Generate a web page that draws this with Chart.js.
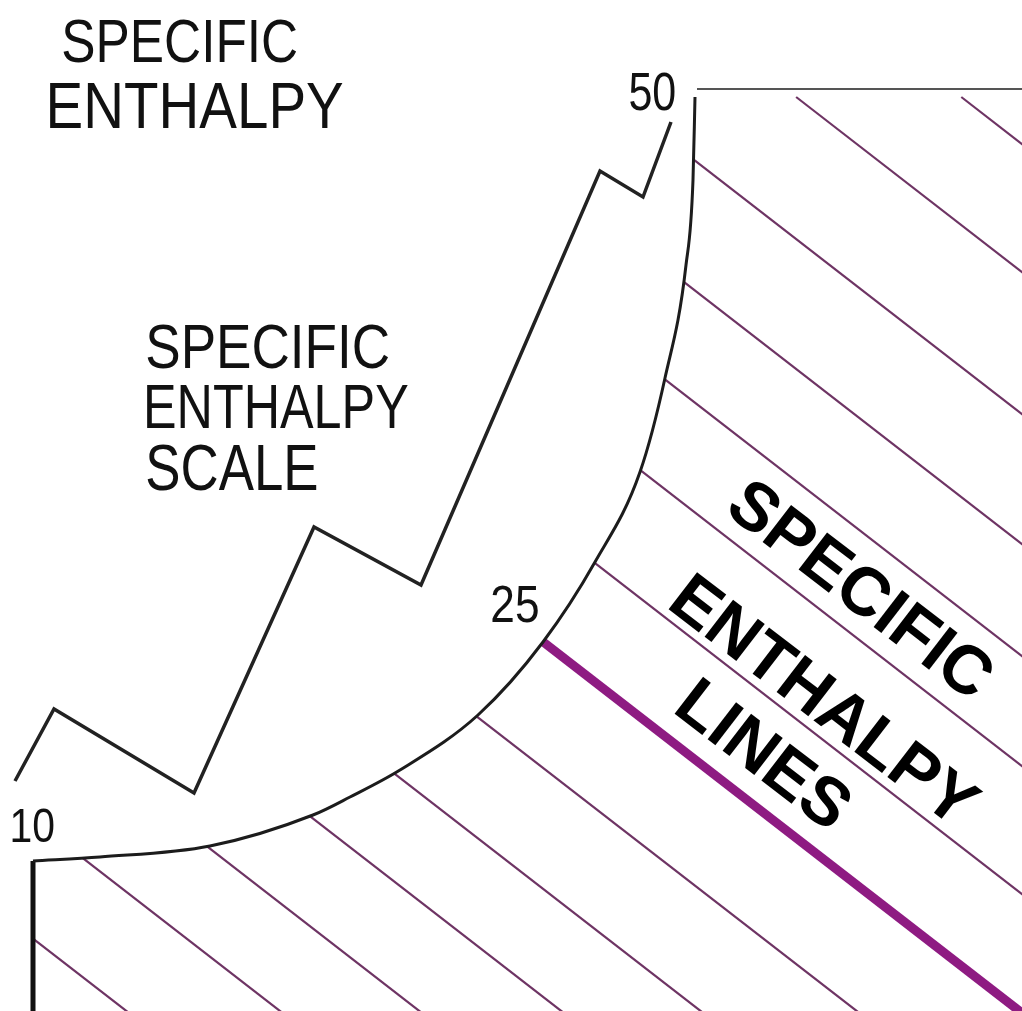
<!DOCTYPE html>
<html>
<head>
<meta charset="utf-8">
<title>Specific enthalpy</title>
<script src="https://cdn.jsdelivr.net/npm/chart.js@4.4.1/dist/chart.umd.min.js"></script>
<style>
  html, body { margin: 0; padding: 0; background: #fff; overflow: hidden; }
  #wrap { width: 1022px; height: 1011px; position: relative; }
</style>
</head>
<body>
<div id="wrap"><canvas id="enthalpyChart"></canvas></div>
<script>
// values (chart units follow the picture, y runs downwards)
const satX = [33, 100, 210, 313, 350, 400, 478, 543, 595, 640, 665, 686, 693, 695];
const satY = [861, 857, 846, 815, 797, 770, 715, 642, 562, 472, 378, 265, 180, 97];

const zigX = [15, 54, 194, 314, 421, 600, 643, 671];
const zigY = [781, 709, 793, 527, 585, 171, 197, 122];

// enthalpy lines, given by where each one would cross x = 0
const hatchC = [-648, -520, -378, -248, -136, -26, 102, 347, 468, 576, 686, 794, 913];
const boldC = 221;
const hatchSlope = 0.775;

const frameLeftX = [33, 33];
const frameLeftY = [861, 1011];
const frameTopX = [697, 1022];
const frameTopY = [89, 89];
const topY = 97;

const scaleTicks = ["10", "25", "50"];
const titleLines = ["SPECIFIC", "ENTHALPY"];
const scaleLines = ["SPECIFIC", "ENTHALPY", "SCALE"];
const linesLabel = ["SPECIFIC", "ENTHALPY", "LINES"];

function pts(xs, ys) {
  return xs.map((x, i) => ({ x: x, y: ys[i] }));
}

// where an enthalpy line leaves the saturation curve (or the frame)
function hatchStart(c) {
  for (let i = 0; i < satX.length - 1; i++) {
    const f0 = satY[i] - (c + hatchSlope * satX[i]);
    const f1 = satY[i + 1] - (c + hatchSlope * satX[i + 1]);
    if ((f0 >= 0 && f1 <= 0) || (f0 <= 0 && f1 >= 0)) {
      const t = f0 / (f0 - f1);
      const x = satX[i] + t * (satX[i + 1] - satX[i]) - 4; // tucked under the white fill
      return { x: x, y: c + hatchSlope * x };
    }
  }
  if (c + hatchSlope * frameLeftX[0] > satY[0]) {
    return { x: frameLeftX[0], y: c + hatchSlope * frameLeftX[0] };
  }
  const x = (topY - c) / hatchSlope;
  return { x: x, y: topY };
}

function hatchLine(c) {
  const s = hatchStart(c);
  return [s, { x: 1100, y: c + hatchSlope * 1100 }];
}

const plainLine = {
  showLine: true,
  pointRadius: 0,
  fill: false,
  tension: 0
};

const datasets = [
  Object.assign({}, plainLine, {
    label: "scale",
    data: pts(zigX, zigY),
    borderColor: "#222",
    borderWidth: 3.5,
    borderJoinStyle: "miter"
  }),
  Object.assign({}, plainLine, {
    label: "saturation",
    data: pts(satX, satY),
    borderColor: "#1c1c1c",
    borderWidth: 3,
    cubicInterpolationMode: "monotone",
    fill: "end",
    backgroundColor: "#ffffff"
  }),
  Object.assign({}, plainLine, {
    label: "left",
    data: pts(frameLeftX, frameLeftY),
    borderColor: "#111",
    borderWidth: 5
  }),
  Object.assign({}, plainLine, {
    label: "top",
    data: pts(frameTopX, frameTopY),
    borderColor: "#555",
    borderWidth: 2
  }),
  Object.assign({}, plainLine, {
    label: "bold",
    data: hatchLine(boldC),
    borderColor: "#8e1b82",
    borderWidth: 9
  })
];
hatchC.forEach(function (c) {
  datasets.push(Object.assign({}, plainLine, {
    label: "h" + c,
    data: hatchLine(c),
    borderColor: "#6e3464",
    borderWidth: 2.2
  }));
});

// text squeezed to the width it has in the picture
function fitText(ctx, text, left, base, cap, width, weight) {
  const size = cap / 0.716;
  ctx.save();
  ctx.font = weight + " " + size + "px 'Liberation Sans', Arial, sans-serif";
  ctx.textAlign = "left";
  ctx.textBaseline = "alphabetic";
  const m = ctx.measureText(text);
  const ink = m.actualBoundingBoxLeft + m.actualBoundingBoxRight;
  ctx.translate(left, base);
  ctx.scale(width / ink, 1);
  ctx.fillText(text, m.actualBoundingBoxLeft, 0);
  ctx.restore();
}

const textPlugin = {
  id: "labels",
  afterDraw(chart) {
    const ctx = chart.ctx;
    ctx.fillStyle = "#111";
    fitText(ctx, titleLines[0], 63, 62, 44, 234, "normal");
    fitText(ctx, titleLines[1], 50, 128, 46, 293, "normal");
    fitText(ctx, scaleLines[0], 147, 368, 45, 241, "normal");
    fitText(ctx, scaleLines[1], 147, 428, 45, 261, "normal");
    fitText(ctx, scaleLines[2], 147, 490, 46, 170, "normal");
    fitText(ctx, scaleTicks[0], 12, 842, 35, 42, "normal");
    fitText(ctx, scaleTicks[1], 492, 622, 37, 46, "normal");
    fitText(ctx, scaleTicks[2], 630, 110, 38, 45, "normal");

    // rotated bold label along the enthalpy lines
    const ang = 37.5 * Math.PI / 180;
    const centres = [[862, 588], [825, 699], [765, 753]];
    ctx.save();
    ctx.fillStyle = "#000";
    ctx.font = "bold 68px 'Liberation Sans', Arial, sans-serif";
    ctx.textAlign = "center";
    ctx.textBaseline = "alphabetic";
    linesLabel.forEach(function (t, i) {
      ctx.save();
      ctx.translate(centres[i][0], centres[i][1]);
      ctx.rotate(ang);
      ctx.fillText(t, 0, 24);
      ctx.restore();
    });
    ctx.restore();
  }
};

const ctx = document.getElementById("enthalpyChart");
new Chart(ctx, {
  type: "scatter",
  data: { datasets: datasets },
  options: {
    responsive: true,
    maintainAspectRatio: false,
    animation: false,
    layout: { padding: 0 },
    scales: {
      x: { type: "linear", min: 0, max: 1022, display: false },
      y: { type: "linear", min: 0, max: 1011, reverse: true, display: false }
    },
    plugins: {
      legend: { display: false },
      tooltip: { enabled: false }
    }
  },
  plugins: [textPlugin]
});
</script>
</body>
</html>
